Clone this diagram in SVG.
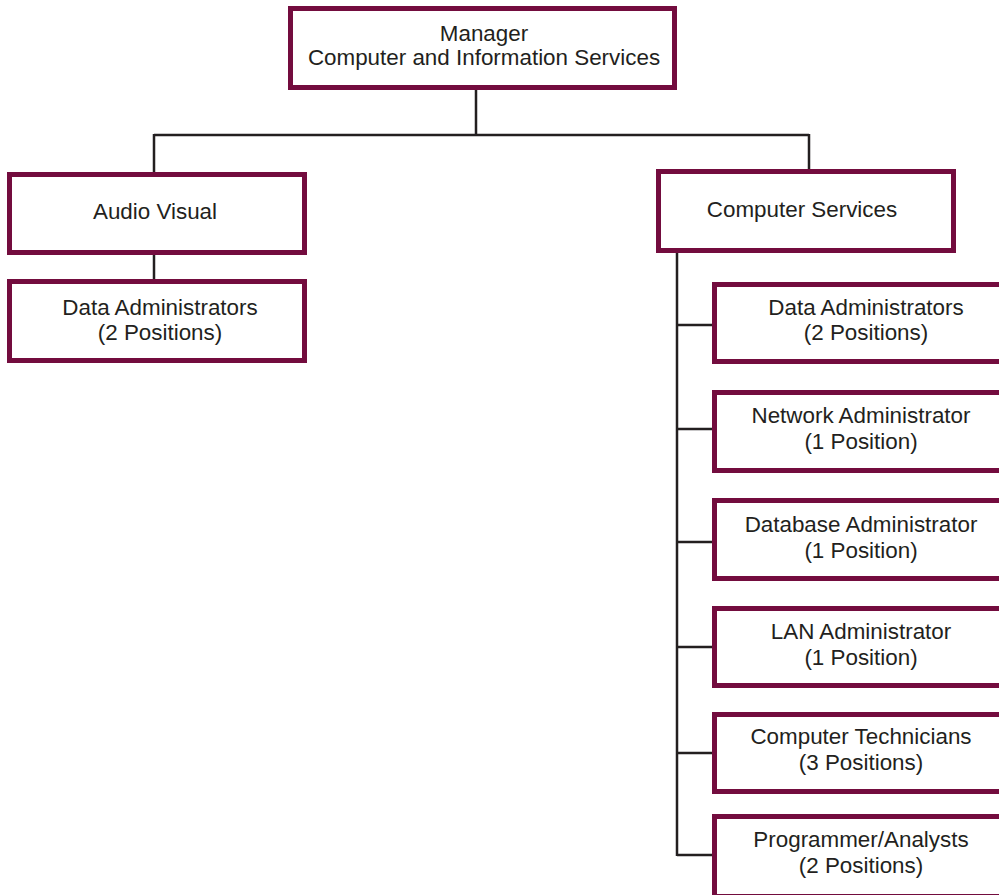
<svg xmlns="http://www.w3.org/2000/svg" width="999" height="895" viewBox="0 0 999 895">
  <style>
    .box { fill: #ffffff; stroke: #730c3e; stroke-width: 5; }
    .wire { fill: none; stroke: #231f20; stroke-width: 2.5; }
    text { font-family: "Liberation Sans", Arial, sans-serif; font-size: 22.4px; fill: #231f20; text-anchor: middle; }
  </style>
  <rect width="999" height="895" fill="#ffffff"/>

  <!-- connectors -->
  <g id="connectors">
    <path class="wire" d="M476,90 V135 M154,135 H809 M154,134 V172 M809,134 V169"/>
    <path class="wire" d="M154,255 V279"/>
    <path class="wire" d="M677,253 V856 M677,325 H712 M677,429 H712 M677,542 H712 M677,647 H712 M677,753 H712 M677,855 H712"/>
  </g>

  <g id="manager">
    <rect class="box" x="290.5" y="8.5" width="384" height="79"/>
    <text x="484" y="41">Manager</text>
    <text x="484" y="65">Computer and Information Services</text>
  </g>

  <g id="audio-visual">
    <rect class="box" x="9.5" y="174.5" width="295" height="78"/>
    <text x="155" y="219">Audio Visual</text>
  </g>

  <g id="av-data-administrators">
    <rect class="box" x="9.5" y="281.5" width="295" height="79"/>
    <text x="160" y="315">Data Administrators</text>
    <text x="160" y="340">(2 Positions)</text>
  </g>

  <g id="computer-services">
    <rect class="box" x="658.5" y="171.5" width="295" height="79"/>
    <text x="802" y="217">Computer Services</text>
  </g>

  <g id="cs-data-administrators">
    <rect class="box" x="714.5" y="284.5" width="300" height="77"/>
    <text x="866" y="315">Data Administrators</text>
    <text x="866" y="340">(2 Positions)</text>
  </g>

  <g id="network-administrator">
    <rect class="box" x="714.5" y="392.5" width="300" height="78"/>
    <text x="861" y="423">Network Administrator</text>
    <text x="861" y="449">(1 Position)</text>
  </g>

  <g id="database-administrator">
    <rect class="box" x="714.5" y="500.5" width="300" height="78"/>
    <text x="861" y="532">Database Administrator</text>
    <text x="861" y="558">(1 Position)</text>
  </g>

  <g id="lan-administrator">
    <rect class="box" x="714.5" y="608.5" width="300" height="77"/>
    <text x="861" y="639">LAN Administrator</text>
    <text x="861" y="665">(1 Position)</text>
  </g>

  <g id="computer-technicians">
    <rect class="box" x="714.5" y="714.5" width="300" height="77"/>
    <text x="861" y="744">Computer Technicians</text>
    <text x="861" y="770">(3 Positions)</text>
  </g>

  <g id="programmer-analysts">
    <rect class="box" x="714.5" y="816.5" width="300" height="80"/>
    <text x="861" y="847">Programmer/Analysts</text>
    <text x="861" y="873">(2 Positions)</text>
  </g>
</svg>
